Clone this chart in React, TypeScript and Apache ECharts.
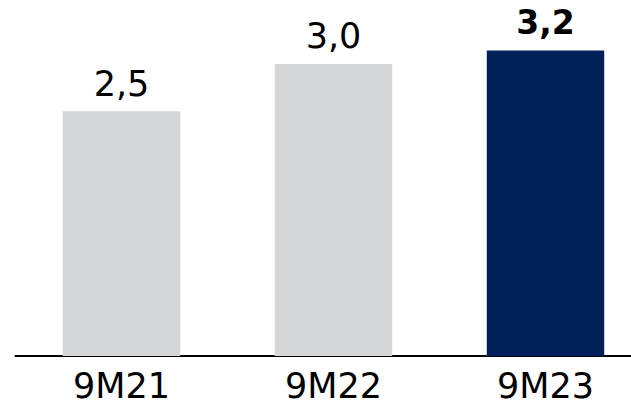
import React, { useEffect, useRef } from "react";
import * as echarts from "echarts";

const categories = ["9M21", "9M22", "9M23"];
const values = [2.53, 3.02, 3.16];
const barColors = ["#d5d6d8", "#d5d6d8", "#00205b"];
const boldFlags = [false, false, true];

export default function App() {
  const ref = useRef<HTMLDivElement>(null);
  useEffect(() => {
    if (!ref.current) return;
    const chart = echarts.init(ref.current, undefined, { renderer: "svg" });
    const fmt = (v: number) => v.toFixed(1).replace(".", ",");
    chart.setOption({
      animation: false,
      grid: { left: 15.5, width: 636, top: 17.5, bottom: 50, outerBoundsMode: "none", containLabel: false },
      xAxis: {
        type: "category",
        data: categories,
        axisLine: { show: true, lineStyle: { color: "#000", width: 2 } },
        axisTick: { show: false },
        axisLabel: {
          color: "#000",
          fontFamily: "DejaVu Sans",
          fontSize: 35,
          margin: 12,
        },
      },
      yAxis: {
        type: "value",
        min: 0,
        max: 3.5,
        show: false,
        splitLine: { show: false },
      },
      series: [
        {
          type: "bar",
          barCategoryGap: "44.6%",
          data: values.map((v, i) => ({
            value: v,
            itemStyle: { color: barColors[i] },
            label: {
              show: true,
              position: "top",
              distance: boldFlags[i] ? 11 : 10,
              color: "#000",
              fontFamily: "DejaVu Sans",
              fontSize: boldFlags[i] ? 33 : 35,
              fontWeight: boldFlags[i] ? "bold" : "normal",
              formatter: () => fmt(v),
            },
          })),
        },
      ],
    });
    return () => chart.dispose();
  }, []);
  return (
    <div style={{ position: "absolute", left: 0, top: 0, width: 631, height: 406, overflow: "hidden" }}>
      <div ref={ref} style={{ width: 660, height: 406 }} />
    </div>
  );
}
